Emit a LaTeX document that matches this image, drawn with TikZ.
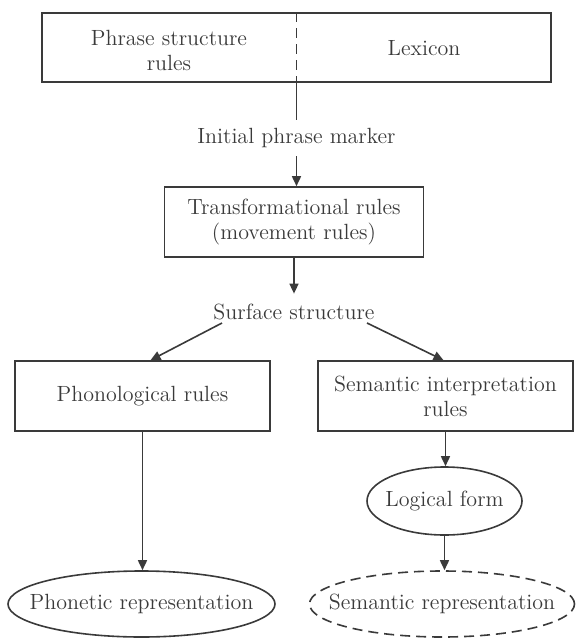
\documentclass[tikz,border=0pt]{standalone}
\usetikzlibrary{arrows.meta,shapes.geometric}
\definecolor{ink}{HTML}{3A3A3A}
\begin{document}
\begin{tikzpicture}[x=0.5pt,y=-0.5pt,
  txt/.style={font=\fontsize{11}{12.5}\selectfont, text=ink, align=center, inner sep=2pt},
  boxed/.style={draw=ink, line width=0.8pt, rectangle, inner sep=0pt, minimum height=35pt, minimum width=127.5pt},
  ell/.style={draw=ink, line width=0.8pt, ellipse, inner sep=0pt},
  lin/.style={draw=ink, line width=0.8pt},
  arr/.style={draw=ink, line width=0.8pt, -{Triangle[length=5pt,width=4.5pt]}}]
\useasboundingbox (0,0) rectangle (575,638);
% top box
\node[boxed, minimum width=254.5pt, minimum height=34.5pt] (top) at (296.5,47.5) {};
\node[txt] (psr) at (169,50) {Phrase structure\\rules};
\node[txt] (lex) at (424,48) {Lexicon};
\draw[lin, dashed, dash pattern=on 5pt off 3pt] (top.north) -- (top.south);
\node[txt, inner ysep=4pt] (ipm) at (296.5,138) {Initial phrase marker};
\draw[lin] (top.south) -- (ipm.north);
% transformational
\node[boxed, minimum width=129.5pt] (tr) at (294,222) {};
\node[txt] (trt) at (tr) {Transformational rules\\(movement rules)};
\draw[arr] (ipm.south) -- (ipm.south |- tr.north);
\node[txt, inner ysep=5pt] (surf) at (294,312) {Surface structure};
\draw[arr] (tr.south -| surf.north) -- (surf.north);
\coordinate (sl) at (222,323);
\coordinate (sr) at (367,323);
% phonological / semantic
\node[boxed] (phon) at (142.5,396) {};
\node[txt] (phont) at (phon) {Phonological rules};
\node[boxed] (sem) at (445.5,396) {};
\node[txt] (semt) at (sem) {Semantic interpretation\\rules};
\draw[arr] (sl) -- ([xshift=4pt]phon.north);
\draw[arr] (sr) -- ([xshift=-1pt]sem.north);
% logical form
\node[ell, minimum width=77.5pt, minimum height=34pt] (lf) at (444.5,501) {};
\node[txt] (lft) at (lf) {Logical form};
\draw[arr] (sem.south) -- (sem.south |- lf.north);
% bottom ellipses
\node[ell, minimum width=133.5pt, minimum height=33pt] (pr) at (141.5,604) {};
\node[txt] (prt) at (pr) {Phonetic representation};
\node[ell, dashed, dash pattern=on 5pt off 3pt, minimum width=132.5pt, minimum height=33pt] (srep) at (442,604) {};
\node[txt] (srept) at (srep) {Semantic representation};
\draw[arr] (phon.south) -- (phon.south |- pr.north);
\draw[arr] (lf.south) -- (lf.south |- srep.north);
\end{tikzpicture}
\end{document}
